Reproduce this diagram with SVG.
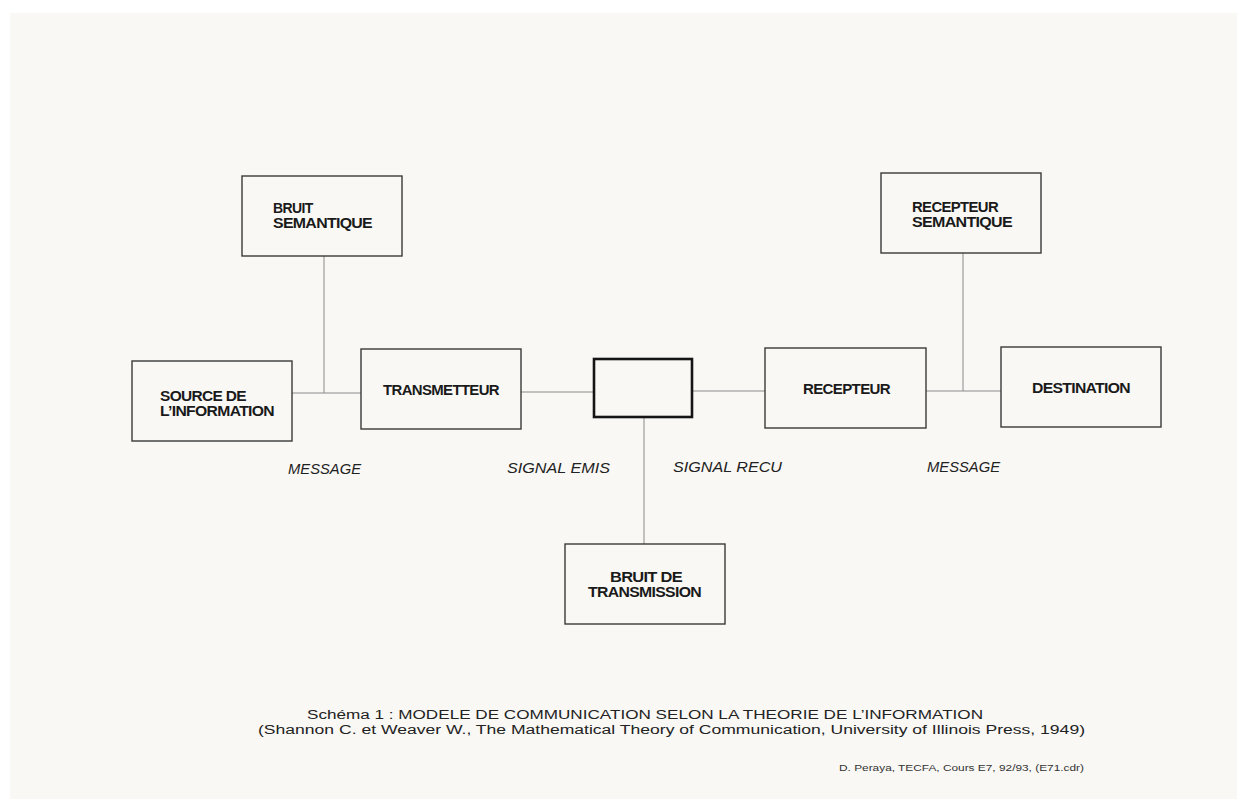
<svg xmlns="http://www.w3.org/2000/svg" width="1237" height="799" viewBox="0 0 1237 799">
<style>
.box{fill:none;stroke:#3a3a3a;stroke-width:1.4}
.chan{fill:none;stroke:#151515;stroke-width:2.6}
.con{stroke:#8a8a8a;stroke-width:1;fill:none}
.lbl{font-family:"Liberation Sans",Arial,sans-serif;font-weight:bold;font-size:14px;fill:#1a1a1a;letter-spacing:-0.6px}
.it{font-family:"Liberation Sans",Arial,sans-serif;font-style:italic;font-size:14px;fill:#222}
.cap{font-family:"Liberation Sans",Arial,sans-serif;font-size:12.5px;fill:#222}
.foot{font-family:"Liberation Sans",Arial,sans-serif;font-size:8.5px;fill:#333}
</style>
<rect x="0" y="0" width="1237" height="799" fill="#ffffff"/>
<rect x="10" y="13" width="1227" height="786" fill="#f9f8f5"/>
<g id="connectors">
<line class="con" x1="324" y1="256" x2="324" y2="393"/>
<line class="con" x1="292" y1="393" x2="361" y2="393"/>
<line class="con" x1="521" y1="392" x2="594" y2="392"/>
<line class="con" x1="692" y1="391" x2="765" y2="391"/>
<line class="con" x1="926" y1="391" x2="1001" y2="391"/>
<line class="con" x1="963" y1="253" x2="963" y2="391"/>
<line class="con" x1="644" y1="418" x2="644" y2="544"/>
</g>
<g id="bruit-semantique">
<rect class="box" x="242" y="176" width="160" height="80"/>
<text class="lbl" x="273" y="213">BRUIT</text>
<text class="lbl" x="273" y="228" textLength="99" lengthAdjust="spacingAndGlyphs">SEMANTIQUE</text>
</g>
<g id="source">
<rect class="box" x="132" y="361" width="160" height="80"/>
<text class="lbl" x="160" y="401" textLength="86" lengthAdjust="spacingAndGlyphs">SOURCE DE</text>
<text class="lbl" x="160" y="416" textLength="114" lengthAdjust="spacingAndGlyphs">L’INFORMATION</text>
</g>
<g id="transmetteur">
<rect class="box" x="361" y="349" width="160" height="80"/>
<text class="lbl" x="383" y="395" textLength="116" lengthAdjust="spacingAndGlyphs">TRANSMETTEUR</text>
</g>
<g id="canal">
<rect class="chan" x="594" y="359" width="98" height="58"/>
</g>
<g id="recepteur">
<rect class="box" x="765" y="348" width="161" height="80"/>
<text class="lbl" x="803" y="394" textLength="87" lengthAdjust="spacingAndGlyphs">RECEPTEUR</text>
</g>
<g id="destination">
<rect class="box" x="1001" y="347" width="160" height="80"/>
<text class="lbl" x="1032" y="393" textLength="98" lengthAdjust="spacingAndGlyphs">DESTINATION</text>
</g>
<g id="recepteur-semantique">
<rect class="box" x="881" y="173" width="160" height="80"/>
<text class="lbl" x="912" y="212" textLength="86" lengthAdjust="spacingAndGlyphs">RECEPTEUR</text>
<text class="lbl" x="912" y="227" textLength="100" lengthAdjust="spacingAndGlyphs">SEMANTIQUE</text>
</g>
<g id="bruit-transmission">
<rect class="box" x="565" y="544" width="160" height="80"/>
<text class="lbl" x="610" y="582" textLength="72" lengthAdjust="spacingAndGlyphs">BRUIT DE</text>
<text class="lbl" x="588" y="597" textLength="113" lengthAdjust="spacingAndGlyphs">TRANSMISSION</text>
</g>
<g id="labels">
<text class="it" x="288" y="474" textLength="73" lengthAdjust="spacingAndGlyphs">MESSAGE</text>
<text class="it" x="507" y="473" textLength="103" lengthAdjust="spacingAndGlyphs">SIGNAL  EMIS</text>
<text class="it" x="673" y="472" textLength="109" lengthAdjust="spacingAndGlyphs">SIGNAL  RECU</text>
<text class="it" x="927" y="472" textLength="73" lengthAdjust="spacingAndGlyphs">MESSAGE</text>
</g>
<g id="caption">
<text class="cap" x="307" y="719" textLength="676" lengthAdjust="spacingAndGlyphs">Schéma 1 : MODELE DE COMMUNICATION SELON LA THEORIE DE L’INFORMATION</text>
<text class="cap" x="258" y="734" textLength="827" lengthAdjust="spacingAndGlyphs">(Shannon C. et Weaver W., The Mathematical Theory of Communication, University of Illinois Press, 1949)</text>
<text class="foot" x="839" y="771" textLength="245" lengthAdjust="spacingAndGlyphs">D. Peraya, TECFA, Cours E7, 92/93, (E71.cdr)</text>
</g>
</svg>
